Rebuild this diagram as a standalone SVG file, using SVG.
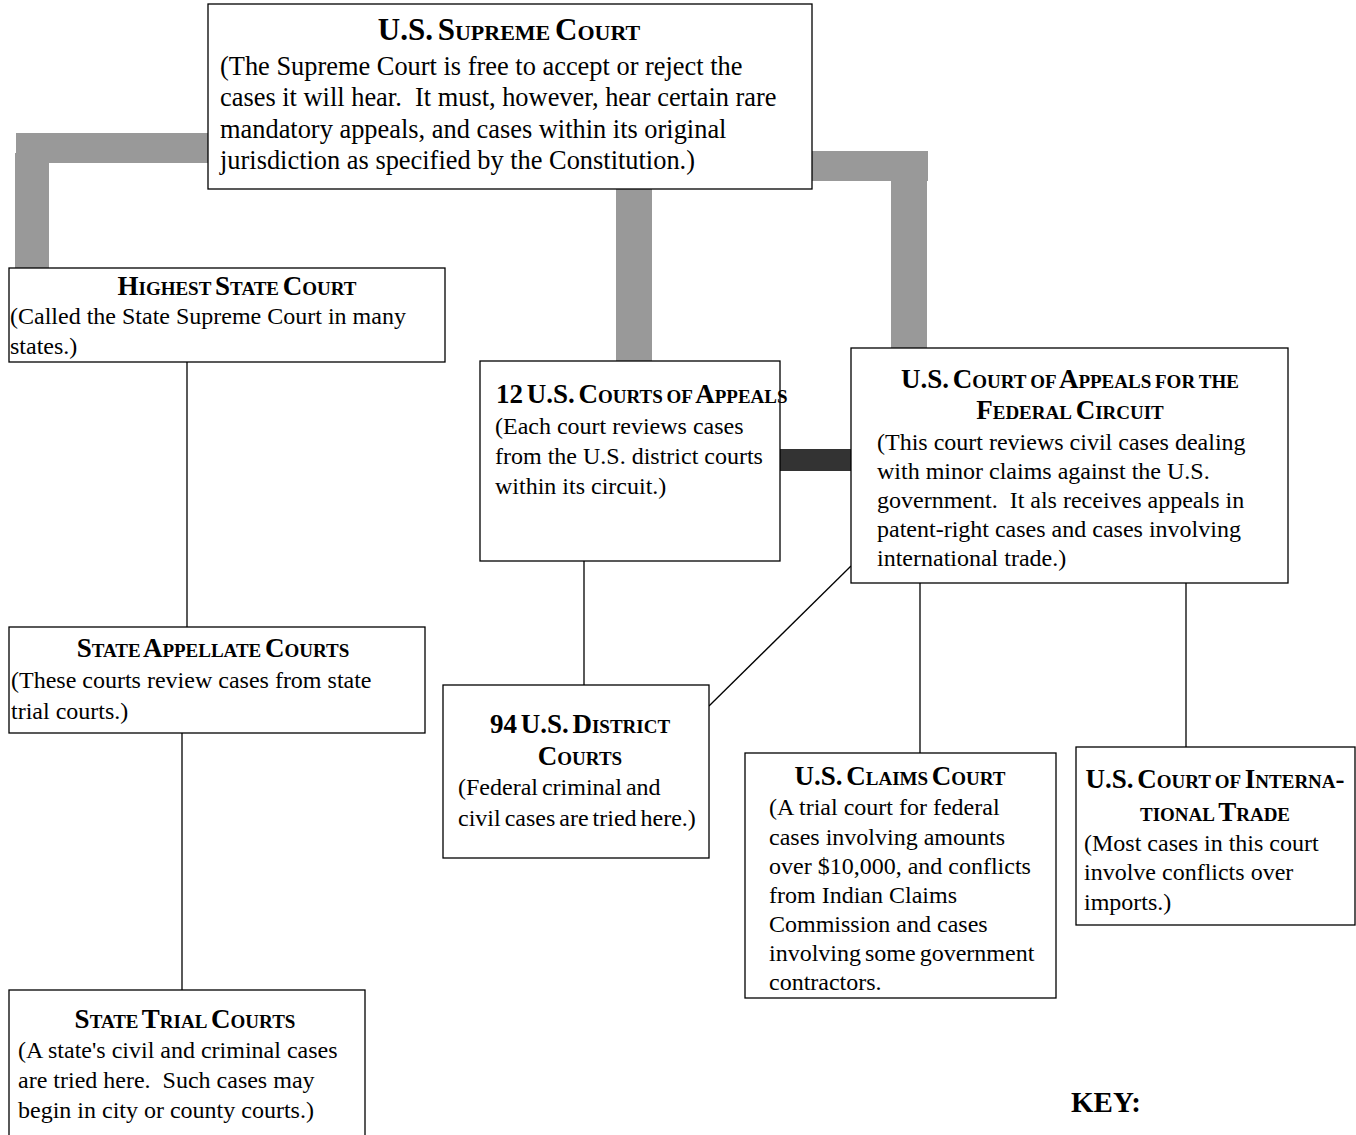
<svg xmlns="http://www.w3.org/2000/svg" width="1356" height="1135" viewBox="0 0 1356 1135">
<style>
.box{fill:#fff;stroke:#000;stroke-width:1.3}
.t{font-family:"Liberation Serif","Times New Roman",serif;font-weight:bold;font-variant:small-caps;fill:#000;text-anchor:middle;font-size:27px;word-spacing:-3px}
.b{font-family:"Liberation Serif","Times New Roman",serif;fill:#000;font-size:24px;white-space:pre}
.gray{fill:#999}
.thin{stroke:#000;stroke-width:1.3;fill:none}
</style>
<rect width="1356" height="1135" fill="#fff"/>
<g id="connectors">
<rect class="gray" x="16" y="133" width="194" height="30"/>
<rect class="gray" x="15" y="153" width="34" height="116"/>
<rect class="gray" x="616" y="188" width="36" height="174"/>
<rect class="gray" x="812" y="151" width="116" height="30"/>
<rect class="gray" x="891" y="151" width="36" height="198"/>
<rect x="780" y="449" width="72" height="22" fill="#333"/>
<line class="thin" x1="187" y1="362" x2="187" y2="627"/>
<line class="thin" x1="182" y1="733" x2="182" y2="990"/>
<line class="thin" x1="584" y1="561" x2="584" y2="685"/>
<line class="thin" x1="709" y1="706" x2="851" y2="566"/>
<line class="thin" x1="920" y1="583" x2="920" y2="753"/>
<line class="thin" x1="1186" y1="583" x2="1186" y2="747"/>
</g>
<g id="supreme">
<rect class="box" x="208" y="4" width="604" height="185"/>
<text class="t" x="509" y="40" style="font-size:31px">U.S. Supreme Court</text>
<text class="b" x="220" y="75" style="font-size:26.4px" xml:space="preserve">(The Supreme Court is free to accept or reject the</text>
<text class="b" x="220" y="106" style="font-size:26.4px" xml:space="preserve">cases it will hear.  It must, however, hear certain rare</text>
<text class="b" x="220" y="138" style="font-size:26.4px" xml:space="preserve">mandatory appeals, and cases within its original</text>
<text class="b" x="220" y="169" style="font-size:26.4px" xml:space="preserve">jurisdiction as specified by the Constitution.)</text>
</g>
<g id="highest-state">
<rect class="box" x="9" y="268" width="436" height="94"/>
<text class="t" x="237" y="295">Highest State Court</text>
<text class="b" x="10" y="324">(Called the State Supreme Court in many</text>
<text class="b" x="10" y="354">states.)</text>
</g>
<g id="state-appellate">
<rect class="box" x="9" y="627" width="416" height="106"/>
<text class="t" x="213" y="657">State Appellate Courts</text>
<text class="b" x="11" y="688">(These courts review cases from state</text>
<text class="b" x="11" y="719">trial courts.)</text>
</g>
<g id="state-trial">
<rect class="box" x="9" y="990" width="356" height="160"/>
<text class="t" x="185" y="1028">State Trial Courts</text>
<text class="b" x="18" y="1058">(A state's civil and criminal cases</text>
<text class="b" x="18" y="1088" xml:space="preserve">are tried here.  Such cases may</text>
<text class="b" x="18" y="1118">begin in city or county courts.)</text>
</g>
<g id="courts-of-appeals">
<rect class="box" x="480" y="361" width="300" height="200"/>
<text class="t" x="496" y="403" style="text-anchor:start">12 U.S. Courts of Appeals</text>
<text class="b" x="495" y="434">(Each court reviews cases</text>
<text class="b" x="495" y="464">from the U.S. district courts</text>
<text class="b" x="495" y="494">within its circuit.)</text>
</g>
<g id="federal-circuit">
<rect class="box" x="851" y="348" width="437" height="235"/>
<text class="t" x="1070" y="388">U.S. Court of Appeals for the</text>
<text class="t" x="1070" y="419">Federal Circuit</text>
<text class="b" x="877" y="450">(This court reviews civil cases dealing</text>
<text class="b" x="877" y="479">with minor claims against the U.S.</text>
<text class="b" x="877" y="508" xml:space="preserve">government.  It als receives appeals in</text>
<text class="b" x="877" y="537">patent-right cases and cases involving</text>
<text class="b" x="877" y="566">international trade.)</text>
</g>
<g id="district">
<rect class="box" x="443" y="685" width="266" height="173"/>
<text class="t" x="580" y="733">94 U.S. District</text>
<text class="t" x="580" y="765">Courts</text>
<text class="b" x="458" y="795" style="word-spacing:-2px">(Federal criminal and</text>
<text class="b" x="458" y="826" style="word-spacing:-2px">civil cases are tried here.)</text>
</g>
<g id="claims">
<rect class="box" x="745" y="753" width="311" height="245"/>
<text class="t" x="900" y="785">U.S. Claims Court</text>
<text class="b" x="769" y="815">(A trial court for federal</text>
<text class="b" x="769" y="845">cases involving amounts</text>
<text class="b" x="769" y="874">over $10,000, and conflicts</text>
<text class="b" x="769" y="903">from Indian Claims</text>
<text class="b" x="769" y="932">Commission and cases</text>
<text class="b" x="769" y="961" style="word-spacing:-2px">involving some government</text>
<text class="b" x="769" y="990">contractors.</text>
</g>
<g id="international-trade">
<rect class="box" x="1076" y="747" width="279" height="178"/>
<text class="t" x="1215" y="788">U.S. Court of Interna-</text>
<text class="t" x="1215" y="821">tional Trade</text>
<text class="b" x="1084" y="851">(Most cases in this court</text>
<text class="b" x="1084" y="880">involve conflicts over</text>
<text class="b" x="1084" y="910">imports.)</text>
</g>
<g id="key">
<text x="1071" y="1112" style="font-family:'Liberation Serif',serif;font-weight:bold;font-size:29px">KEY:</text>
</g>
</svg>
